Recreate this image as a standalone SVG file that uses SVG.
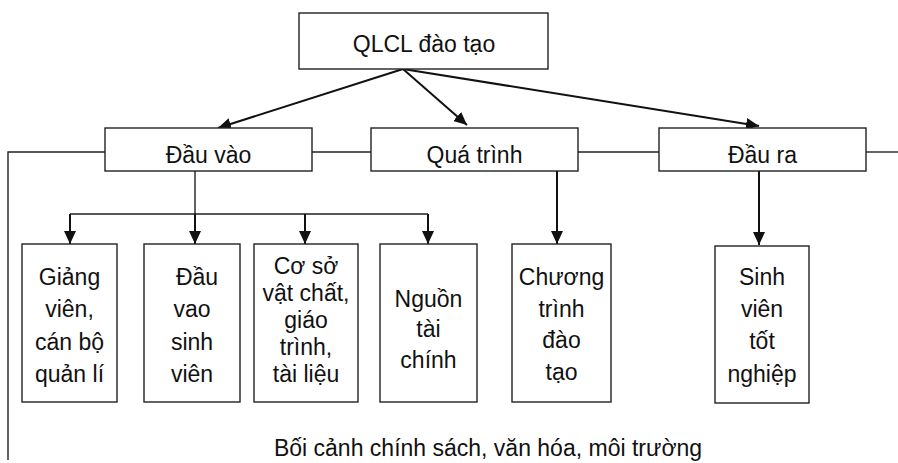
<svg xmlns="http://www.w3.org/2000/svg" width="898" height="463" viewBox="0 0 898 463">
<style>
.box{fill:#fff;stroke:#222;stroke-width:1.4}
.t{font-family:"Liberation Sans",Arial,sans-serif;font-size:23px;fill:#111;text-anchor:middle}
.ln{fill:none;stroke:#222;stroke-width:1.4}
.ar{fill:none;stroke:#111;stroke-width:2;marker-end:url(#ah)}
</style>
<defs>
<marker id="ah" markerUnits="userSpaceOnUse" markerWidth="14" markerHeight="12" refX="13" refY="6" orient="auto">
<path d="M0,0 L13,6 L0,12 Z" fill="#111"/>
</marker>
</defs>
<rect width="898" height="463" fill="#fff"/>
<g id="connectors">
<path class="ln" d="M105,152 H8 V460"/>
<path class="ln" d="M312,152 H371"/>
<path class="ln" d="M578,152 H659"/>
<path class="ln" d="M866,152 H898"/>
<path class="ln" d="M195,171 V214 M70,214 H428"/>
<path class="ar" d="M70,214 V244"/>
<path class="ar" d="M195,214 V244"/>
<path class="ar" d="M305,214 V244"/>
<path class="ar" d="M428,214 V244"/>
<path class="ar" d="M557,171 V244"/>
<path class="ar" d="M759,171 V245"/>
<path class="ar" d="M403,69 L218,128"/>
<path class="ar" d="M403,69 L467,125"/>
<path class="ar" d="M403,69 L759,126"/>
</g>
<g id="qlcl"><rect class="box" x="299" y="13" width="249" height="56"/><text class="t" x="424" y="52">QLCL đào tạo</text></g>
<g id="dauvao"><rect class="box" x="105" y="128" width="207" height="43"/><text class="t" x="208.5" y="163">Đầu vào</text></g>
<g id="quatrinh"><rect class="box" x="371" y="128" width="207" height="43"/><text class="t" x="474.5" y="163">Quá trình</text></g>
<g id="daura"><rect class="box" x="659" y="128" width="207" height="43"/><text class="t" x="762.5" y="163">Đầu ra</text></g>
<g id="giangvien"><rect class="box" x="22" y="244" width="95" height="158"/>
<text class="t" x="69.5" y="285">Giảng</text><text class="t" x="69.5" y="317">viên,</text><text class="t" x="69.5" y="350">cán bộ</text><text class="t" x="69.5" y="382">quản lí</text></g>
<g id="dauvaosv"><rect class="box" x="144" y="244" width="96" height="158"/>
<text class="t" x="197" y="285">Đầu</text><text class="t" x="192" y="317">vao</text><text class="t" x="192" y="350">sinh</text><text class="t" x="192" y="382">viên</text></g>
<g id="cosovc"><rect class="box" x="254" y="244" width="104" height="158"/>
<text class="t" x="306" y="274">Cơ sở</text><text class="t" x="306" y="301">vật chất,</text><text class="t" x="306" y="328">giáo</text><text class="t" x="306" y="355">trình,</text><text class="t" x="306" y="382">tài liệu</text></g>
<g id="nguontc"><rect class="box" x="380" y="244" width="97" height="158"/>
<text class="t" x="428.5" y="307">Nguồn</text><text class="t" x="428.5" y="337">tài</text><text class="t" x="428.5" y="368">chính</text></g>
<g id="ctdt"><rect class="box" x="512" y="244" width="99" height="158"/>
<text class="t" x="561.5" y="285">Chương</text><text class="t" x="561.5" y="317">trình</text><text class="t" x="561.5" y="348">đào</text><text class="t" x="561.5" y="380">tạo</text></g>
<g id="svtn"><rect class="box" x="715" y="246" width="94" height="157"/>
<text class="t" x="762" y="285">Sinh</text><text class="t" x="762" y="317">viên</text><text class="t" x="762" y="349">tốt</text><text class="t" x="762" y="382">nghiệp</text></g>
<g id="boicanh"><text class="t" x="488" y="456">Bối cảnh chính sách, văn hóa, môi trường</text></g>
</svg>
